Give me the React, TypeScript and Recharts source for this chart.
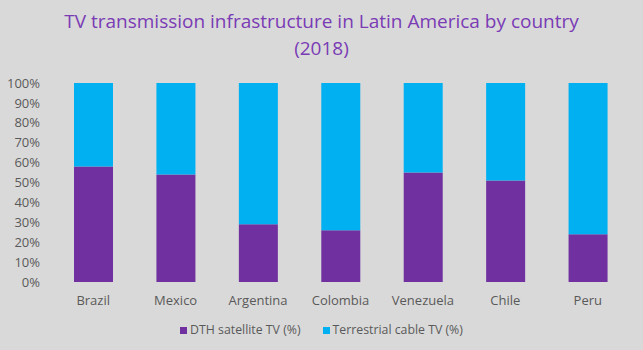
import { BarChart, Bar, XAxis, YAxis } from "recharts";

const countries = ["Brazil", "Mexico", "Argentina", "Colombia", "Venezuela", "Chile", "Peru"];
const dthSatellite = [58, 54, 29, 26, 55, 51, 24];
const terrestrialCable = [42, 46, 71, 74, 45, 49, 76];
const yTicks = [0, 10, 20, 30, 40, 50, 60, 70, 80, 90, 100];

const PURPLE = "#7030a0";
const CYAN = "#00b0f0";
const FONT = "'Open Sans', sans-serif";

const data = countries.map((name, i) => ({
  name,
  dth: dthSatellite[i],
  cable: terrestrialCable[i]
}));

export default function App() {
  return (
    <div
      style={{
        position: "relative",
        width: 643,
        height: 350,
        background: "#d9d9d9",
        fontFamily: FONT
      }}
    >
      <style>{`body{margin:0}`}</style>
      <div
        style={{
          position: "absolute",
          top: 8,
          left: 0,
          width: 643,
          textAlign: "center",
          color: "#7a3bb5",
          fontSize: 19,
          lineHeight: "27px"
        }}
      >
        TV transmission infrastructure in Latin America by country
        <br />
        (2018)
      </div>

      <BarChart
        width={643}
        height={350}
        data={data}
        margin={{ top: 83, right: 14, left: 0, bottom: 38 }}
      >
        <YAxis
          width={52}
          domain={[0, 100]}
          ticks={yTicks}
          tickFormatter={(v: number) => `${v}%`}
          axisLine={false}
          tickLine={false}
          tickMargin={6}
          tick={{ fill: "#595959", fontSize: 13, fontFamily: FONT }}
          interval={0}
        />
        <XAxis
          dataKey="name"
          height={30}
          axisLine={false}
          tickLine={false}
          tickMargin={8}
          tick={{ fill: "#595959", fontSize: 13, fontFamily: FONT }}
          interval={0}
        />
        <Bar dataKey="dth" stackId="a" fill={PURPLE} barSize={39} isAnimationActive={false} />
        <Bar dataKey="cable" stackId="a" fill={CYAN} barSize={39} isAnimationActive={false} />
      </BarChart>

      <div
        style={{
          position: "absolute",
          top: 321,
          left: 0,
          width: 643,
          display: "flex",
          justifyContent: "center",
          gap: 22,
          fontSize: 12.3,
          color: "#595959",
          lineHeight: "18px"
        }}
      >
        {[
          { label: "DTH satellite TV (%)", color: PURPLE },
          { label: "Terrestrial cable TV (%)", color: CYAN }
        ].map((item) => (
          <div key={item.label} style={{ display: "flex", alignItems: "center" }}>
            <span
              style={{
                display: "inline-block",
                width: 7,
                height: 7,
                background: item.color,
                marginRight: 3
              }}
            />
            {item.label}
          </div>
        ))}
      </div>
    </div>
  );
}
